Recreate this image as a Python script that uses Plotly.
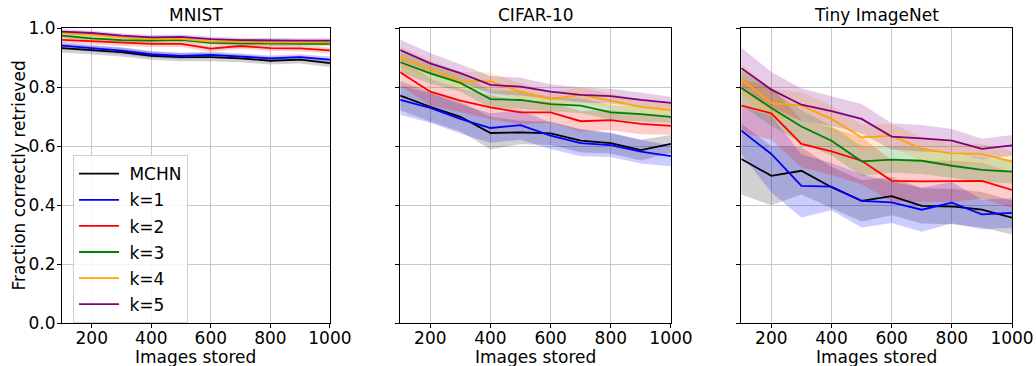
import plotly.graph_objects as go

x = [100, 200, 300, 400, 500, 600, 700, 800, 900, 1000]
series_names = ["MCHN", "k=1", "k=2", "k=3", "k=4", "k=5"]
colors = ["#000000", "#0000ff", "#ff0000", "#008000", "#ffa500", "#800080"]
fills = ["rgba(0,0,0,0.18)", "rgba(0,0,255,0.2)", "rgba(255,0,0,0.2)",
         "rgba(0,128,0,0.2)", "rgba(255,165,0,0.2)", "rgba(128,0,128,0.2)"]
titles = ["MNIST", "CIFAR-10", "Tiny ImageNet"]

# MNIST
mnist_mchn = [0.932, 0.925, 0.918, 0.906, 0.901, 0.901, 0.897, 0.889, 0.893, 0.881]
mnist_k1 = [0.940, 0.932, 0.923, 0.911, 0.905, 0.909, 0.903, 0.897, 0.901, 0.893]
mnist_k2 = [0.960, 0.955, 0.949, 0.946, 0.946, 0.930, 0.939, 0.932, 0.931, 0.924]
mnist_k3 = [0.974, 0.965, 0.959, 0.957, 0.960, 0.950, 0.948, 0.946, 0.946, 0.946]
mnist_k4 = [0.983, 0.977, 0.968, 0.963, 0.963, 0.954, 0.954, 0.951, 0.951, 0.951]
mnist_k5 = [0.988, 0.983, 0.974, 0.968, 0.970, 0.962, 0.959, 0.957, 0.957, 0.957]
mnist_sd_mchn = [0.015, 0.015, 0.015, 0.014, 0.014, 0.014, 0.013, 0.013, 0.013, 0.013]
mnist_sd_k1 = [0.012, 0.012, 0.012, 0.011, 0.011, 0.011, 0.010, 0.010, 0.010, 0.010]
mnist_sd_k2 = [0.010, 0.010, 0.010, 0.010, 0.010, 0.010, 0.010, 0.010, 0.010, 0.010]
mnist_sd_k3 = [0.008, 0.008, 0.008, 0.008, 0.008, 0.008, 0.008, 0.008, 0.008, 0.008]
mnist_sd_k4 = [0.008, 0.008, 0.008, 0.008, 0.008, 0.008, 0.008, 0.008, 0.008, 0.008]
mnist_sd_k5 = [0.008, 0.008, 0.008, 0.008, 0.008, 0.008, 0.008, 0.008, 0.008, 0.008]

# CIFAR-10
cifar_mchn = [0.771, 0.733, 0.699, 0.644, 0.646, 0.643, 0.618, 0.610, 0.586, 0.607]
cifar_k1 = [0.756, 0.729, 0.692, 0.661, 0.671, 0.635, 0.610, 0.603, 0.581, 0.566]
cifar_k2 = [0.850, 0.784, 0.754, 0.731, 0.714, 0.714, 0.684, 0.688, 0.675, 0.668]
cifar_k3 = [0.884, 0.846, 0.814, 0.759, 0.756, 0.742, 0.737, 0.714, 0.708, 0.699]
cifar_k4 = [0.901, 0.861, 0.821, 0.819, 0.784, 0.759, 0.773, 0.754, 0.733, 0.722]
cifar_k5 = [0.925, 0.880, 0.847, 0.807, 0.801, 0.784, 0.773, 0.769, 0.756, 0.746]
cifar_sd_mchn = [0.050, 0.050, 0.050, 0.055, 0.040, 0.040, 0.040, 0.035, 0.035, 0.030]
cifar_sd_k1 = [0.050, 0.050, 0.050, 0.050, 0.050, 0.045, 0.045, 0.040, 0.040, 0.035]
cifar_sd_k2 = [0.045, 0.045, 0.040, 0.040, 0.040, 0.035, 0.035, 0.035, 0.035, 0.030]
cifar_sd_k3 = [0.035, 0.035, 0.030, 0.030, 0.030, 0.025, 0.025, 0.025, 0.025, 0.020]
cifar_sd_k4 = [0.035, 0.030, 0.030, 0.030, 0.030, 0.025, 0.025, 0.025, 0.025, 0.020]
cifar_sd_k5 = [0.035, 0.035, 0.030, 0.030, 0.030, 0.025, 0.025, 0.025, 0.025, 0.020]

# Tiny ImageNet
tiny_mchn = [0.556, 0.499, 0.516, 0.460, 0.414, 0.430, 0.397, 0.395, 0.384, 0.357]
tiny_k1 = [0.652, 0.573, 0.465, 0.462, 0.414, 0.409, 0.384, 0.408, 0.368, 0.373]
tiny_k2 = [0.737, 0.711, 0.607, 0.582, 0.550, 0.482, 0.480, 0.480, 0.482, 0.451]
tiny_k3 = [0.797, 0.729, 0.666, 0.618, 0.548, 0.554, 0.550, 0.533, 0.519, 0.513]
tiny_k4 = [0.827, 0.745, 0.737, 0.692, 0.629, 0.635, 0.590, 0.575, 0.573, 0.547]
tiny_k5 = [0.864, 0.791, 0.740, 0.718, 0.692, 0.632, 0.626, 0.618, 0.590, 0.602]
tiny_sd_mchn = [0.120, 0.100, 0.080, 0.070, 0.070, 0.065, 0.060, 0.060, 0.060, 0.057]
tiny_sd_k1 = [0.080, 0.130, 0.107, 0.080, 0.090, 0.070, 0.075, 0.070, 0.050, 0.050]
tiny_sd_k2 = [0.090, 0.090, 0.080, 0.080, 0.080, 0.070, 0.070, 0.070, 0.060, 0.060]
tiny_sd_k3 = [0.060, 0.060, 0.055, 0.050, 0.050, 0.045, 0.045, 0.040, 0.040, 0.040]
tiny_sd_k4 = [0.050, 0.050, 0.045, 0.045, 0.045, 0.040, 0.040, 0.035, 0.035, 0.035]
tiny_sd_k5 = [0.070, 0.060, 0.055, 0.050, 0.050, 0.045, 0.045, 0.040, 0.035, 0.035]

datasets = [
    ([mnist_mchn, mnist_k1, mnist_k2, mnist_k3, mnist_k4, mnist_k5],
     [mnist_sd_mchn, mnist_sd_k1, mnist_sd_k2, mnist_sd_k3, mnist_sd_k4, mnist_sd_k5]),
    ([cifar_mchn, cifar_k1, cifar_k2, cifar_k3, cifar_k4, cifar_k5],
     [cifar_sd_mchn, cifar_sd_k1, cifar_sd_k2, cifar_sd_k3, cifar_sd_k4, cifar_sd_k5]),
    ([tiny_mchn, tiny_k1, tiny_k2, tiny_k3, tiny_k4, tiny_k5],
     [tiny_sd_mchn, tiny_sd_k1, tiny_sd_k2, tiny_sd_k3, tiny_sd_k4, tiny_sd_k5]),
]

domains = [[0.0, 0.282], [0.356, 0.641], [0.715, 1.0]]
FONT = "DejaVu Sans"
FS = 17
fig = go.Figure()

for p, (means, sds) in enumerate(datasets):
    xa = "x" if p == 0 else f"x{p+1}"
    ya = "y" if p == 0 else f"y{p+1}"
    for i in range(6):
        up = [m + s for m, s in zip(means[i], sds[i])]
        lo = [m - s for m, s in zip(means[i], sds[i])]
        fig.add_trace(go.Scatter(
            x=x + x[::-1], y=up + lo[::-1], fill="toself", fillcolor=fills[i],
            line=dict(width=0), mode="lines", hoverinfo="skip", showlegend=False,
            xaxis=xa, yaxis=ya))
    for i in range(6):
        fig.add_trace(go.Scatter(
            x=x, y=means[i], mode="lines", name=" " + series_names[i],
            legendgroup=f"g{i}",
            line=dict(color=colors[i], width=1.8), showlegend=(p == 0),
            xaxis=xa, yaxis=ya))

axis_common = dict(showline=True, linecolor="black", linewidth=1, mirror=True,
                   ticks="outside", ticklen=4, tickcolor="black", automargin=False,
                   showgrid=True, gridcolor="#c8c8c8", gridwidth=1, zeroline=False,
                   tickfont=dict(size=FS, color="black", family=FONT))
layout = dict(
    template="none",
    width=1036, height=366,
    margin=dict(l=62, r=24, t=28, b=43, autoexpand=False),
    paper_bgcolor="white", plot_bgcolor="white",
    font=dict(family=FONT, size=FS, color="black"),
    legend=dict(x=0.0116, y=0.569, xanchor="left", yanchor="top",
                bgcolor="rgba(255,255,255,0.85)", bordercolor="#d0d0d0", borderwidth=1,
                font=dict(size=FS, family=FONT), tracegroupgap=1,
                itemwidth=40),
    annotations=[],
)
for p in range(3):
    xk = "xaxis" if p == 0 else f"xaxis{p+1}"
    yk = "yaxis" if p == 0 else f"yaxis{p+1}"
    ya = "y" if p == 0 else f"y{p+1}"
    xa = "x" if p == 0 else f"x{p+1}"
    layout[xk] = dict(axis_common, domain=domains[p], range=[100, 1000],
                      tickvals=[200, 400, 600, 800, 1000], anchor=ya,
                      ticklabelstandoff=-4)
    layout[yk] = dict(axis_common, domain=[0, 1], range=[0, 1], anchor=xa,
                      tickvals=[0, 0.2, 0.4, 0.6, 0.8, 1.0],
                      ticktext=["0.0", "0.2", "0.4", "0.6", "0.8", "1.0"],
                      showticklabels=(p == 0), ticklabelstandoff=-2)
    cx = (domains[p][0] + domains[p][1]) / 2
    layout["annotations"].append(dict(
        text=titles[p], x=cx, y=1.0, xref="paper", yref="paper",
        xanchor="center", yanchor="bottom", yshift=1,
        showarrow=False, font=dict(size=FS, family=FONT)))
    layout["annotations"].append(dict(
        text="Images stored", x=cx, y=-0.1152, xref="paper", yref="paper",
        xanchor="center", yanchor="middle",
        showarrow=False, font=dict(size=FS, family=FONT)))

layout["annotations"].append(dict(
    text="Fraction correctly retrieved", x=-0.0463, y=0.5, xref="paper", yref="paper",
    xanchor="center", yanchor="middle", textangle=-90,
    showarrow=False, font=dict(size=FS, family=FONT)))

fig.update_layout(**layout)
fig.write_html("out.html", config={"displayModeBar": False},
               post_script="document.body.style.margin='0';document.body.style.overflow='hidden';")
